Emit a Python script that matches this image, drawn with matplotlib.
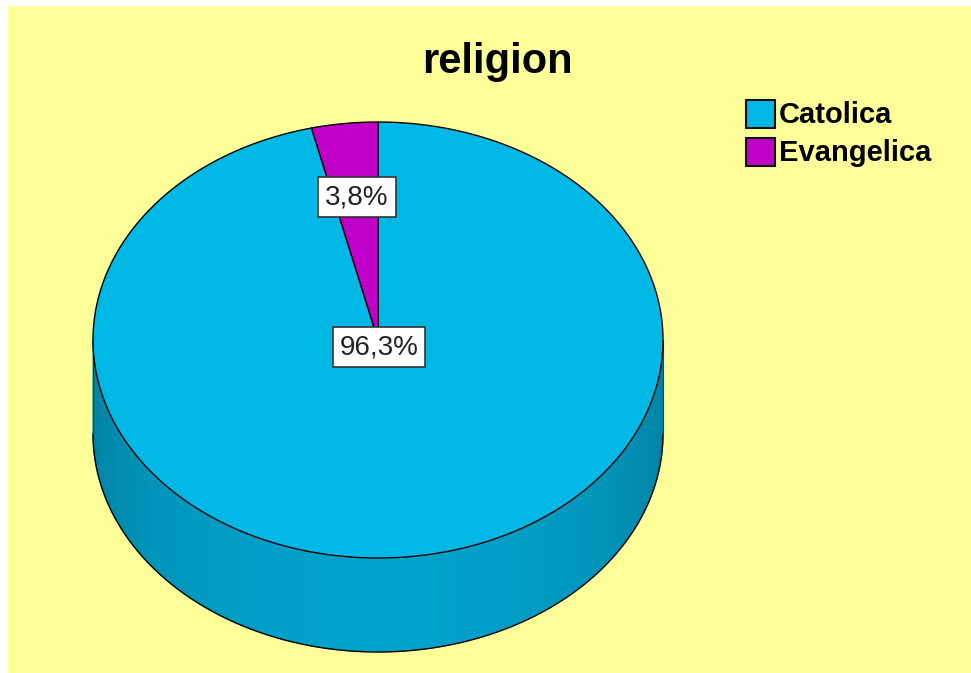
import numpy as np
import matplotlib.pyplot as plt
from matplotlib.patches import Polygon, Rectangle

labels = ["Catolica", "Evangelica"]
counts = [77, 3]
colors = ["#00B8E6", "#C000C8"]
pct_text = ["96,3%", "3,8%"]

W, H = 971, 673
fig = plt.figure(figsize=(W / 100, H / 100), dpi=100)
fig.patch.set_facecolor("#FFFF99")
ax = fig.add_axes([0, 0, 1, 1])
ax.set_xlim(0, W)
ax.set_ylim(H, 0)
ax.axis("off")

# white margins at top and left, the rest is the yellow panel
ax.add_patch(Rectangle((0, 0), W, 6, facecolor="white", edgecolor="none", zorder=0))
ax.add_patch(Rectangle((0, 0), 8, H, facecolor="white", edgecolor="none", zorder=0))

cx, cy, rx, ry, depth = 378, 340, 285, 218, 94


def pt(t_deg, dy=0):
    t = np.radians(t_deg)
    return cx + rx * np.cos(t), cy - ry * np.sin(t) + dy


# side of the cylinder (front half), drawn as shaded strips
base = np.array([0, 184, 230]) / 255
steps = np.linspace(180, 360, 61)
for a0, a1 in zip(steps[:-1], steps[1:]):
    ts = np.linspace(a0, a1, 4)
    top = [pt(t) for t in ts]
    bot = [pt(t, depth) for t in ts[::-1]]
    f = 0.68 + 0.2 * (-np.sin(np.radians((a0 + a1) / 2)))
    ax.add_patch(Polygon(top + bot, closed=True, facecolor=base * f,
                         edgecolor=base * f, lw=0.6, zorder=1))

# side outline
ts = np.linspace(180, 360, 200)
bx = [pt(t, depth)[0] for t in ts]
by = [pt(t, depth)[1] for t in ts]
ax.plot(bx, by, color="black", lw=1.0, zorder=2)
ax.plot([cx - rx, cx - rx], [cy, cy + depth], color="#00506A", lw=0.8, zorder=2)
ax.plot([cx + rx, cx + rx], [cy, cy + depth], color="#00506A", lw=0.8, zorder=2)

# top face wedges, starting at 12 o'clock
total = sum(counts)
angles = [c / total * 360 for c in counts]

# Catolica clockwise from top, Evangelica counter-clockwise from top
a_start = [90 - angles[0], 90]
a_end = [90, 90 + angles[1]]
for i in range(len(counts)):
    ts = np.linspace(a_start[i], a_end[i], 300)
    verts = [(cx, cy)] + [pt(t) for t in ts]
    ax.add_patch(Polygon(verts, closed=True, facecolor=colors[i],
                         edgecolor="black", lw=1.0, zorder=3))

# percentage labels
label_pos = [(379, 347), (357, 197)]
for (x, y), s in zip(label_pos, pct_text):
    ax.text(x, y, s, ha="center", va="center", fontsize=20,
            family="Liberation Sans", color="#222222", zorder=5,
            bbox=dict(boxstyle="square,pad=0.25", facecolor="white",
                      edgecolor="#333333", lw=1.2))

# title
ax.text(497, 62, "religion", ha="center", va="center", fontsize=30,
        fontweight="bold", family="Liberation Sans", zorder=5)

# legend
leg_y = [114, 152]
for i, lab in enumerate(labels):
    ax.add_patch(Rectangle((746, leg_y[i] - 14), 29, 28, facecolor=colors[i],
                           edgecolor="#111111", lw=1.5, zorder=5))
    ax.text(779, leg_y[i] + 1, lab, ha="left", va="center", fontsize=21,
            fontweight="bold", family="Liberation Sans", zorder=5)

fig.savefig("out.png", dpi=100, facecolor=fig.get_facecolor())
